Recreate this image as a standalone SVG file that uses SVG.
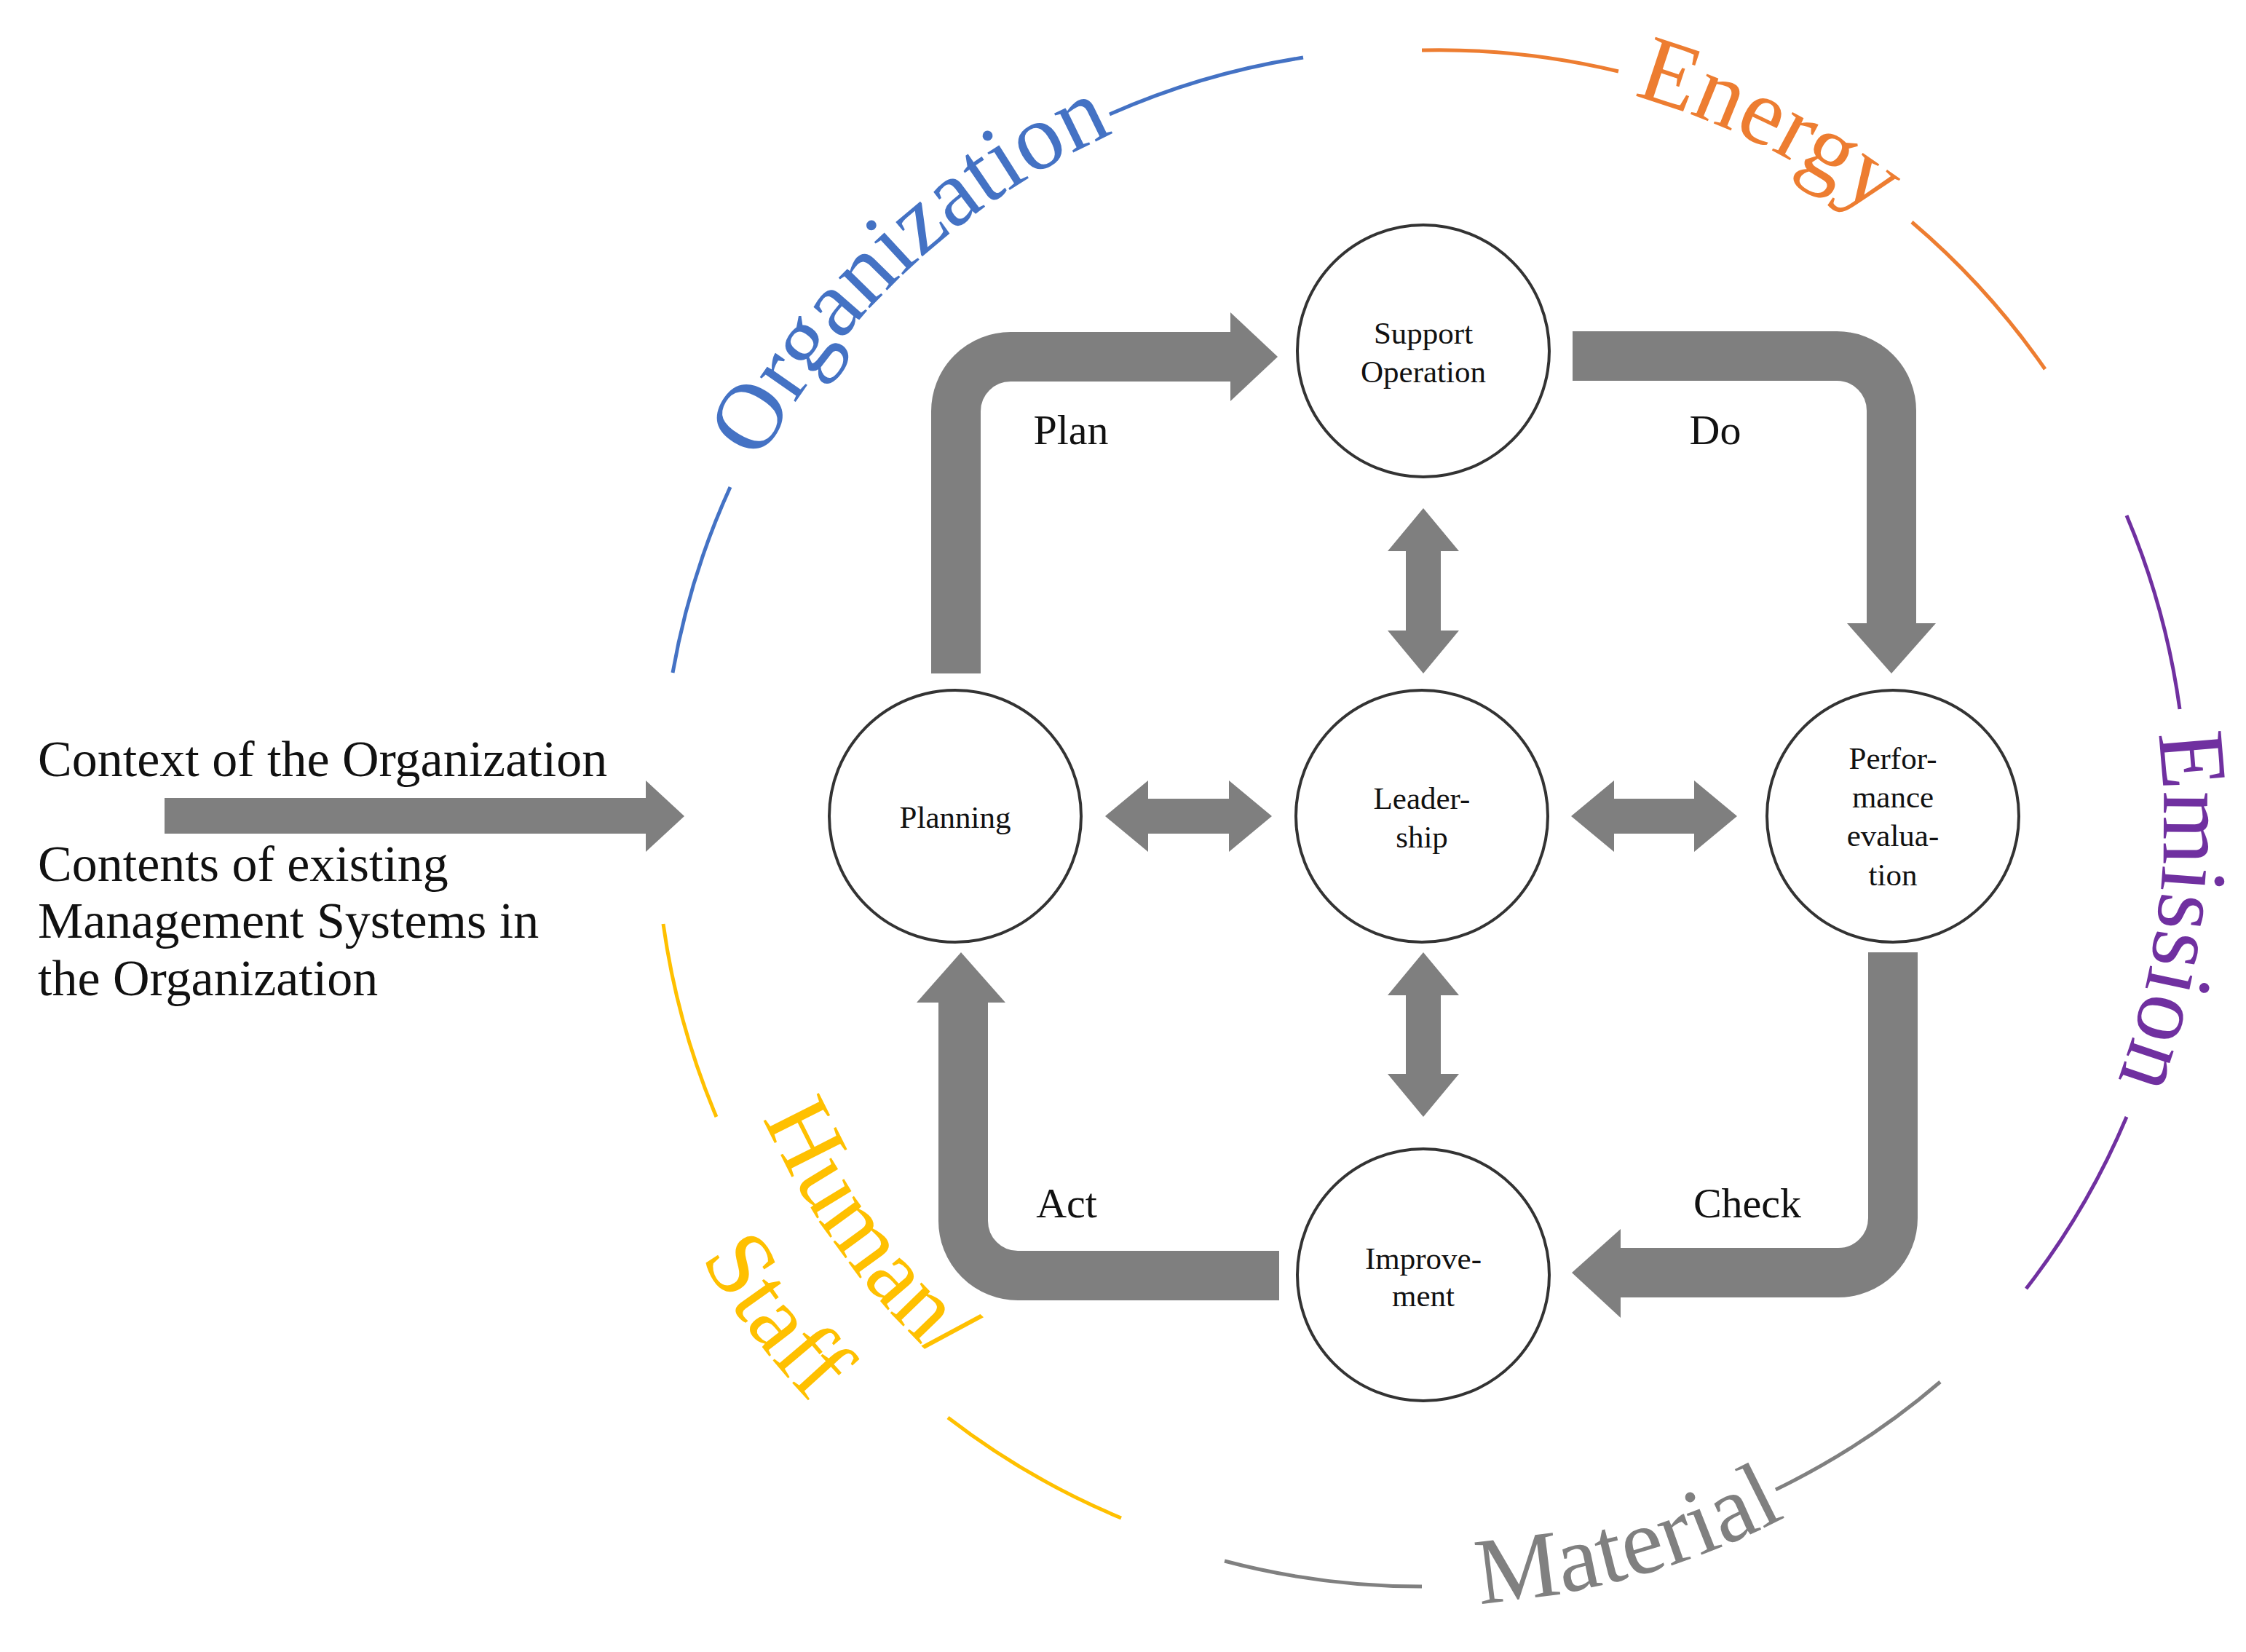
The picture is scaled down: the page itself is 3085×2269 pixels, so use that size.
<svg xmlns="http://www.w3.org/2000/svg" width="3085" height="2269" viewBox="0 0 3085 2269">
<style>
.node{fill:#fff;stroke:#333;stroke-width:4}
.nt{font-family:"Liberation Serif",serif;font-size:43px;fill:#111;text-anchor:middle}
.lbl{font-family:"Liberation Serif",serif;font-size:58px;fill:#111;text-anchor:middle}
.ctx{font-family:"Liberation Serif",serif;font-size:70px;fill:#111}
.band{fill:none;stroke:#7f7f7f;stroke-width:68}
.head{fill:#7f7f7f}
.arc{fill:none;stroke-width:5}
.big{font-family:"Liberation Serif",serif;font-size:130px}
</style>
<defs>
<path id="pOrg" d="M1043 634.7 A1040 1040 0 0 1 1776.4 106.8"/>
<path id="pEn" d="M2243.6 131.3 A1040 1040 0 0 1 2753.7 462.5"/>
<path id="pEm" d="M2964.5 1007.3 A1015 1015 0 0 1 2876.9 1560"/>
<path id="pMat" d="M2032 2202 A1074 1074 0 0 0 2526.1 2041.8"/>
<path id="pHum" d="M1048.1 1535.7 A995 995 0 0 0 1386.3 1946.1"/>
<path id="pSt" d="M962.6 1728.4 A1160 1160 0 0 0 1211.4 2019.6"/>
</defs>
<rect width="3085" height="2269" fill="#fff"/>
<g id="outer-ring">
<path class="arc" stroke="#4472C4" d="M924 924 A1052 1052 0 0 1 1003 669"/>
<path class="arc" stroke="#4472C4" d="M1524 157 A1052 1052 0 0 1 1790 79"/>
<path class="arc" stroke="#ED7D31" d="M1953 69 A1052 1052 0 0 1 2223 98"/>
<path class="arc" stroke="#ED7D31" d="M2626 305 A1052 1052 0 0 1 2809 507"/>
<path class="arc" stroke="#7030A0" d="M2921 708 A1052 1052 0 0 1 2994 974"/>
<path class="arc" stroke="#7030A0" d="M2921 1534 A1052 1052 0 0 1 2783 1770"/>
<path class="arc" stroke="#808080" d="M2665 1898 A1052 1052 0 0 1 2439 2046"/>
<path class="arc" stroke="#808080" d="M1953 2179 A1052 1052 0 0 1 1682 2144"/>
<path class="arc" stroke="#FFC000" d="M1540 2085 A1052 1052 0 0 1 1302 1947"/>
<path class="arc" stroke="#FFC000" d="M984 1534 A1052 1052 0 0 1 911 1269"/>
<text class="big" fill="#4472C4" font-size="124"><textPath href="#pOrg">Organization</textPath></text>
<text class="big" fill="#ED7D31"><textPath href="#pEn">Energy</textPath></text>
<text class="big" fill="#7030A0" font-size="124"><textPath href="#pEm">Emission</textPath></text>
<text class="big" fill="#808080" font-size="134"><textPath href="#pMat">Material</textPath></text>
<text class="big" fill="#FFC000" font-size="124"><textPath href="#pHum">Human/</textPath></text>
<text class="big" fill="#FFC000" font-size="128"><textPath href="#pSt">Staff</textPath></text>
</g>
<g id="connectors">
<path class="band" d="M1313 925 V565 A75 75 0 0 1 1388 490 H1692"/>
<polygon class="head" points="1690,429 1755,490 1690,551"/>
<path class="band" d="M2160 489 H2523 A75 75 0 0 1 2598 564 V858"/>
<polygon class="head" points="2537,856 2598,925 2659,856"/>
<path class="band" d="M2600 1308 V1673 A75 75 0 0 1 2525 1748 H2224"/>
<polygon class="head" points="2226,1688 2159,1748 2226,1810"/>
<path class="band" d="M1757 1752 H1398 A75 75 0 0 1 1323 1677 V1375"/>
<polygon class="head" points="1259,1377 1320,1308 1381,1377"/>
<polygon class="head" points="226,1096 887,1096 887,1072 940,1121 887,1170 887,1145 226,1145"/>
<polygon class="head" points="1518,1121 1577,1072 1577,1097 1688,1097 1688,1072 1747,1121 1688,1170 1688,1145 1577,1145 1577,1170"/>
<polygon class="head" points="2158,1121 2217,1072 2217,1097 2327,1097 2327,1072 2386,1121 2327,1170 2327,1145 2217,1145 2217,1170"/>
<polygon class="head" points="1955,698 2004,757 1979,757 1979,866 2004,866 1955,925 1906,866 1931,866 1931,757 1906,757"/>
<polygon class="head" points="1955,1308 2004,1367 1979,1367 1979,1475 2004,1475 1955,1534 1906,1475 1931,1475 1931,1367 1906,1367"/>
<text class="lbl" x="1471" y="610">Plan</text>
<text class="lbl" x="2356" y="610">Do</text>
<text class="lbl" x="1465" y="1672">Act</text>
<text class="lbl" x="2400" y="1672">Check</text>
</g>
<g id="context">
<text class="ctx" x="52" y="1066">Context of the Organization</text>
<text class="ctx" x="52" y="1210">Contents of existing</text>
<text class="ctx" x="52" y="1288">Management Systems in</text>
<text class="ctx" x="52" y="1367">the Organization</text>
</g>
<g id="support"><circle class="node" cx="1955" cy="482" r="173"/><text class="nt" x="1955" y="472">Support</text><text class="nt" x="1955" y="525">Operation</text></g>
<g id="planning"><circle class="node" cx="1312" cy="1121" r="173"/><text class="nt" x="1312" y="1137">Planning</text></g>
<g id="leadership"><circle class="node" cx="1953" cy="1121" r="173"/><text class="nt" x="1953" y="1111">Leader-</text><text class="nt" x="1953" y="1164">ship</text></g>
<g id="performance"><circle class="node" cx="2600" cy="1121" r="173"/><text class="nt" x="2600" y="1056">Perfor-</text><text class="nt" x="2600" y="1109">mance</text><text class="nt" x="2600" y="1162">evalua-</text><text class="nt" x="2600" y="1216">tion</text></g>
<g id="improvement"><circle class="node" cx="1955" cy="1751" r="173"/><text class="nt" x="1955" y="1743">Improve-</text><text class="nt" x="1955" y="1794">ment</text></g>
</svg>
